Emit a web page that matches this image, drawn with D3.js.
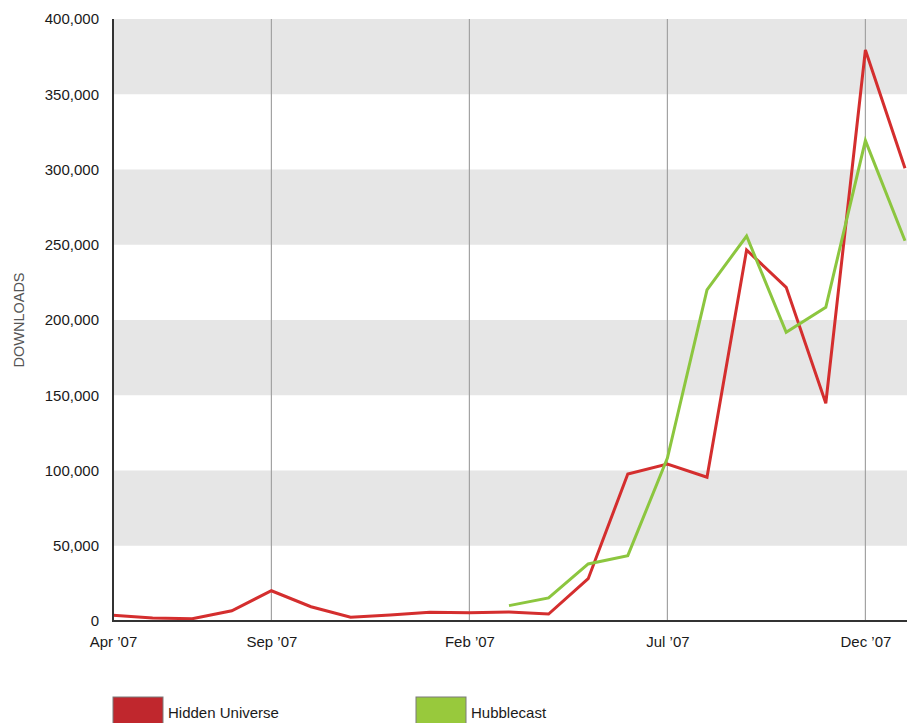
<!DOCTYPE html>
<html>
<head>
<meta charset="utf-8">
<script src="https://cdn.jsdelivr.net/npm/d3@7"></script>
<style>
  html, body { margin: 0; padding: 0; background: #fff; }
  svg { display: block; font-family: "Liberation Sans", Arial, Helvetica, sans-serif; }
</style>
</head>
<body>
<svg id="chart" width="914" height="723"></svg>
<script>
// Monthly downloads per podcast, one value per period (null = not yet running)
const periods = [0, 1, 2, 3, 4, 5, 6, 7, 8, 9, 10, 11, 12, 13, 14, 15, 16, 17, 18, 19, 20];
const hiddenUniverse = [3800, 2000, 1500, 6800, 20100, 9500, 2500, 4000, 5800, 5500, 6000, 4600,
                        28100, 97700, 104300, 95500, 246500, 221700, 144700, 379400, 300800];
const hubblecast = [null, null, null, null, null, null, null, null, null, null, 10200, 15300,
                    37900, 43400, 108300, 220000, 255800, 191800, 208400, 319200, 252700];
const seriesNames = ["Hidden Universe", "Hubblecast"];
const lineColors = ["#d42e2e", "#8cc63f"];
const swatchColors = ["#c0272d", "#98c93c"];
const xTickPeriods = [0, 4, 9, 14, 19];
const xTickLabels = ["Apr \u201907", "Sep \u201907", "Feb \u201907", "Jul \u201907", "Dec \u201907"];
const yTicks = [0, 50000, 100000, 150000, 200000, 250000, 300000, 350000, 400000];

const svg = d3.select("#chart");
const plotLeft = 113, plotRight = 907, plotTop = 19, plotBottom = 621;
const labelFont = "'Liberation Sans', Arial, sans-serif";

const x = d3.scaleLinear().domain([0, 20]).range([plotLeft, 905]);
const y = d3.scaleLinear().domain([0, 400000]).range([plotBottom, plotTop]);

// Alternating grey bands
const bands = d3.pairs(yTicks).filter((d, i) => i % 2 === 1);
svg.append("g").selectAll("rect").data(bands).join("rect")
  .attr("x", plotLeft).attr("width", plotRight - plotLeft)
  .attr("y", d => y(d[1])).attr("height", d => y(d[0]) - y(d[1]))
  .attr("fill", "#e6e6e6");

// Vertical grid lines at labelled months
svg.append("g").selectAll("line").data(xTickPeriods).join("line")
  .attr("x1", d => x(d)).attr("x2", d => x(d))
  .attr("y1", plotTop).attr("y2", plotBottom)
  .attr("stroke", "#a3a3a3").attr("stroke-width", 1.2);

// Y axis
const yAxis = svg.append("g").attr("transform", `translate(${plotLeft},0)`)
  .call(d3.axisLeft(y).tickValues(yTicks).tickFormat(d3.format(",")).tickSize(0).tickPadding(14));
yAxis.select(".domain").remove();
yAxis.selectAll("text").attr("font-size", 15).attr("fill", "#1a1a1a")
  .attr("font-family", labelFont);

// X axis
const xAxis = svg.append("g").attr("transform", `translate(0,${plotBottom})`)
  .call(d3.axisBottom(x).tickValues(xTickPeriods)
    .tickFormat((d, i) => xTickLabels[i]).tickSize(0).tickPadding(15));
xAxis.select(".domain").remove();
xAxis.selectAll("text").attr("font-size", 15).attr("fill", "#1a1a1a")
  .attr("font-family", labelFont);

// Series lines
const seriesData = [hiddenUniverse, hubblecast];
const line = d3.line()
  .defined(d => d.v !== null)
  .x(d => x(d.p)).y(d => y(d.v));
seriesData.forEach((vals, k) => {
  svg.append("path")
    .datum(periods.map((p, i) => ({ p, v: vals[i] })))
    .attr("fill", "none")
    .attr("stroke", lineColors[k])
    .attr("stroke-width", 3)
    .attr("stroke-linejoin", "miter")
    .attr("d", line);
});

// Axis lines
svg.append("line").attr("x1", plotLeft).attr("x2", plotLeft).attr("y1", plotTop).attr("y2", plotBottom + 1)
  .attr("stroke", "#333").attr("stroke-width", 2);
svg.append("line").attr("x1", plotLeft - 1).attr("x2", plotRight).attr("y1", plotBottom).attr("y2", plotBottom)
  .attr("stroke", "#333").attr("stroke-width", 2);

// Y axis title
svg.append("text")
  .attr("transform", `translate(23.5,${(plotTop + plotBottom) / 2}) rotate(-90)`)
  .attr("text-anchor", "middle")
  .attr("font-size", 14.5).attr("fill", "#555")
  .text("DOWNLOADS");

// Legend
const legendX = [113, 416];
const legend = svg.append("g").selectAll("g").data(seriesNames).join("g")
  .attr("transform", (d, i) => `translate(${legendX[i]},697)`);
legend.append("rect")
  .attr("width", 50).attr("height", 30)
  .attr("fill", (d, i) => swatchColors[i])
  .attr("stroke", "#7a7a7a").attr("stroke-width", 1);
legend.append("text")
  .attr("x", 55).attr("y", 21)
  .attr("font-size", 15).attr("fill", "#1a1a1a")
  .text(d => d);
</script>
</body>
</html>
